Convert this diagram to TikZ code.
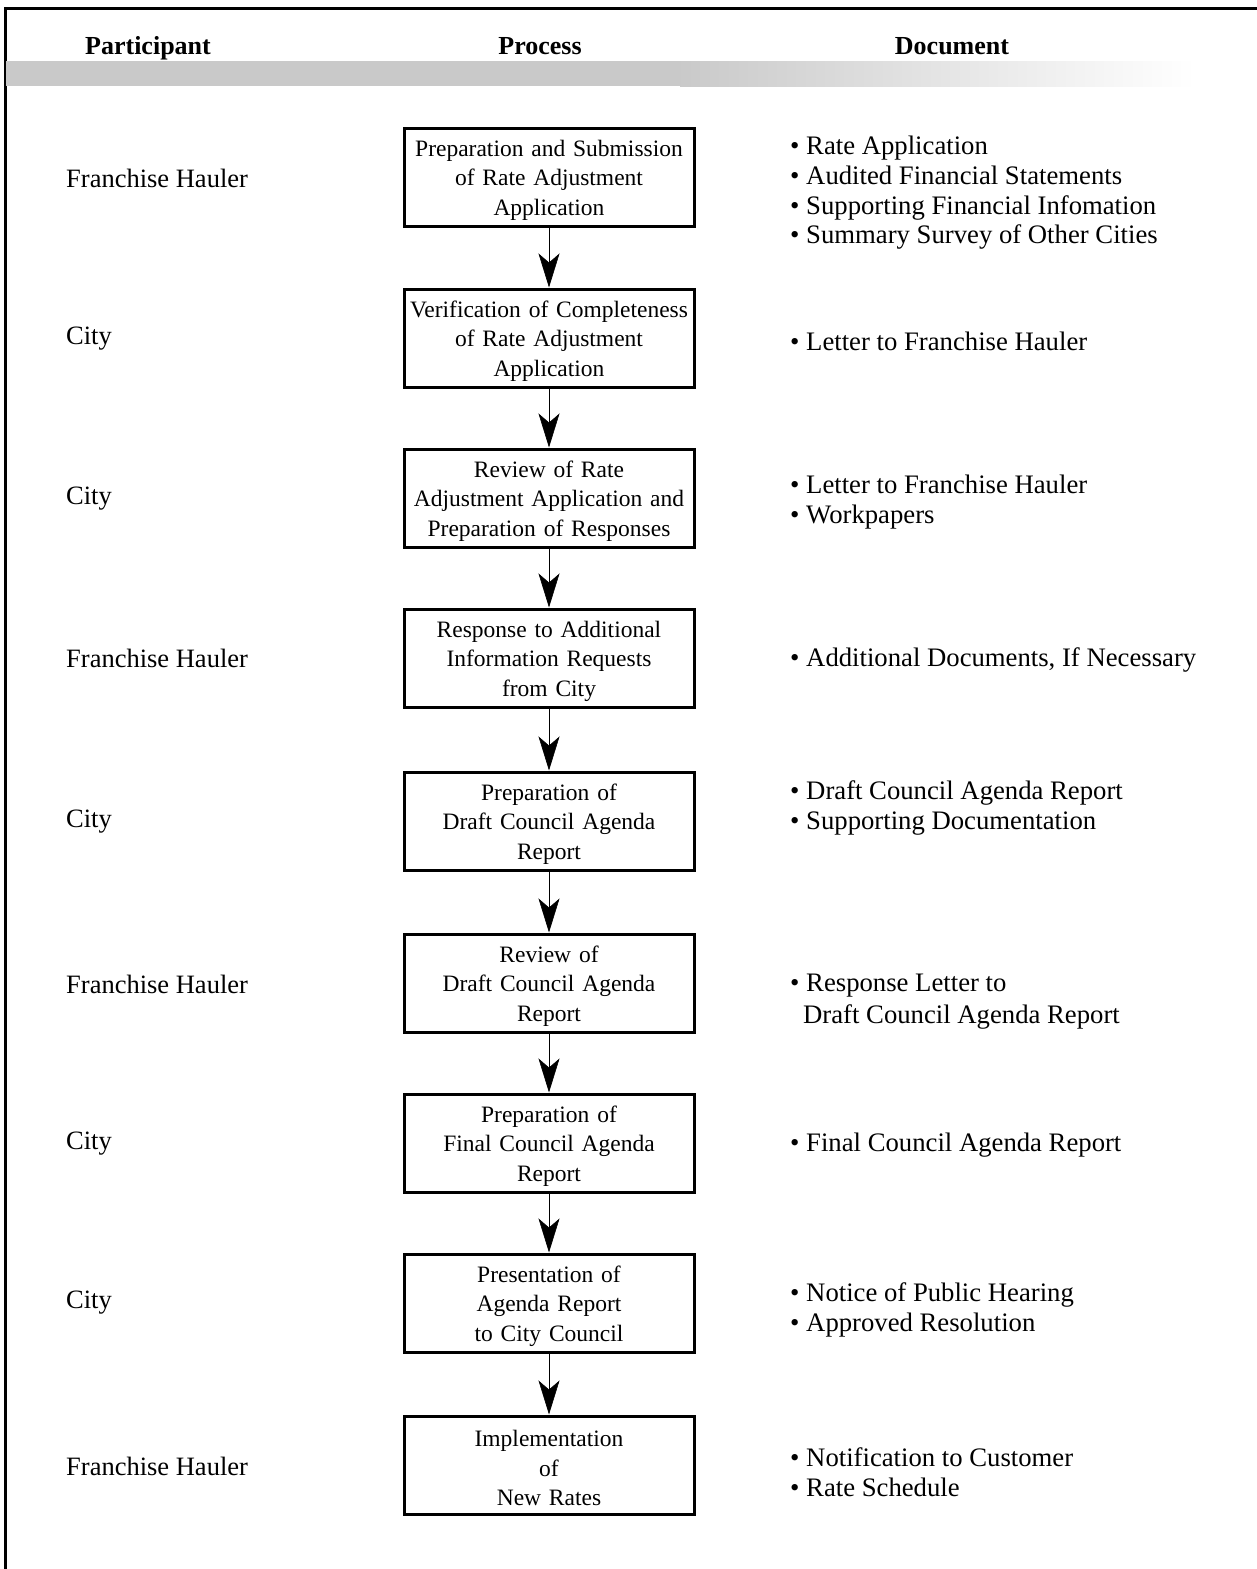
\documentclass[tikz,border=0pt]{standalone}
\usepackage{fontspec}
\setmainfont{Liberation Serif}
\usetikzlibrary{arrows.meta,positioning}
\tikzset{
  procbox/.style={draw=black, line width=3pt, minimum width=290pt, minimum height=98pt, inner sep=0pt},
  boxtext/.style={text width=284pt, inner sep=0pt, align=center,
    font=\fontsize{23.5}{29.5}\selectfont},
  partlabel/.style={anchor=west, inner sep=0pt, font=\fontsize{26.5}{30}\selectfont},
  doclabel/.style={anchor=west, inner sep=0pt, align=left, font=\fontsize{26.7}{29.7}\selectfont},
  headlabel/.style={anchor=base, inner sep=0pt, font=\fontsize{26}{30}\selectfont\bfseries},
  flow/.style={line width=0.6pt, -{Stealth[length=34pt, width=21pt, inset=9pt]}}
}
\begin{document}
\begin{tikzpicture}[x=1pt, y=-1pt]
\useasboundingbox (0,0) rectangle (1257,1569);
% frame
\draw[line width=3pt] (1257,8) -- (5,8) -- (5,1569);
% header band
\fill[gray!42] (6,61) rectangle (680,86);
\shade[left color=gray!42, right color=white] (680,61) rectangle (1195,86);
\node[headlabel] (hp) at (148,54) {Participant};
\node[headlabel] (hq) at (540,54) {Process};
\node[headlabel] (hd) at (952,54) {Document};
% process boxes
\node[procbox] (b1) at (549,177) {};
\node[procbox] (b2) at (549,338) {};
\node[procbox] (b3) at (549,498) {};
\node[procbox] (b4) at (549,658) {};
\node[procbox] (b5) at (549,821) {};
\node[procbox] (b6) at (549,983) {};
\node[procbox] (b7) at (549,1143) {};
\node[procbox] (b8) at (549,1303) {};
\node[procbox] (b9) at (549,1465) {};
\node[boxtext] (t1) at ([yshift=-3pt]b1.center) {Preparation and Submission\\of Rate Adjustment\\Application};
\node[boxtext] (t2) at ([yshift=-3pt]b2.center) {Verification of Completeness\\of Rate Adjustment\\Application};
\node[boxtext] (t3) at ([yshift=-3pt]b3.center) {Review of Rate\\Adjustment Application and\\Preparation of Responses};
\node[boxtext] (t4) at ([yshift=-3pt]b4.center) {Response to Additional\\Information Requests\\from City};
\node[boxtext] (t5) at ([yshift=-3pt]b5.center) {Preparation of\\Draft Council Agenda\\Report};
\node[boxtext] (t6) at ([yshift=-3pt]b6.center) {Review of\\Draft Council Agenda\\Report};
\node[boxtext] (t7) at ([yshift=-3pt]b7.center) {Preparation of\\Final Council Agenda\\Report};
\node[boxtext] (t8) at ([yshift=-3pt]b8.center) {Presentation of\\Agenda Report\\to City Council};
\node[boxtext] (t9) at ([yshift=-3pt]b9.center) {Implementation\\of\\New Rates};
% connectors
\foreach \a/\b in {b1/b2,b2/b3,b3/b4,b4/b5,b5/b6,b6/b7,b7/b8,b8/b9}
  \draw[flow] (\a.south) -- (\b.north);
% participants
\node[partlabel] (p1) at (66,178) {Franchise Hauler};
\node[partlabel] (p2) at (66,339) {City};
\node[partlabel] (p3) at (66,499) {City};
\node[partlabel] (p4) at (66,658) {Franchise Hauler};
\node[partlabel] (p5) at (66,822) {City};
\node[partlabel] (p6) at (66,984) {Franchise Hauler};
\node[partlabel] (p7) at (66,1144) {City};
\node[partlabel] (p8) at (66,1303) {City};
\node[partlabel] (p9) at (66,1466) {Franchise Hauler};
% documents
\node[doclabel] (d1) at (790,193) {\textbullet{} Rate Application\\\textbullet{} Audited Financial Statements\\\textbullet{} Supporting Financial Infomation\\\textbullet{} Summary Survey of Other Cities};
\node[doclabel] (d2) at (790,341) {\textbullet{} Letter to Franchise Hauler};
\node[doclabel] (d3) at (790,502) {\textbullet{} Letter to Franchise Hauler\\\textbullet{} Workpapers};
\node[doclabel] (d4) at (790,660) {\textbullet{} Additional Documents, If Necessary};
\node[doclabel] (d5) at (790,808) {\textbullet{} Draft Council Agenda Report\\\textbullet{} Supporting Documentation};
\node[doclabel, font=\fontsize{26.7}{32}\selectfont] (d6) at (790,1002) {\textbullet{} Response Letter to\\\hspace*{13pt}Draft Council Agenda Report};
\node[doclabel] (d7) at (790,1145) {\textbullet{} Final Council Agenda Report};
\node[doclabel] (d8) at (790,1310) {\textbullet{} Notice of Public Hearing\\\textbullet{} Approved Resolution};
\node[doclabel] (d9) at (790,1472) {\textbullet{} Notification to Customer\\\textbullet{} Rate Schedule};
\end{tikzpicture}
\end{document}
